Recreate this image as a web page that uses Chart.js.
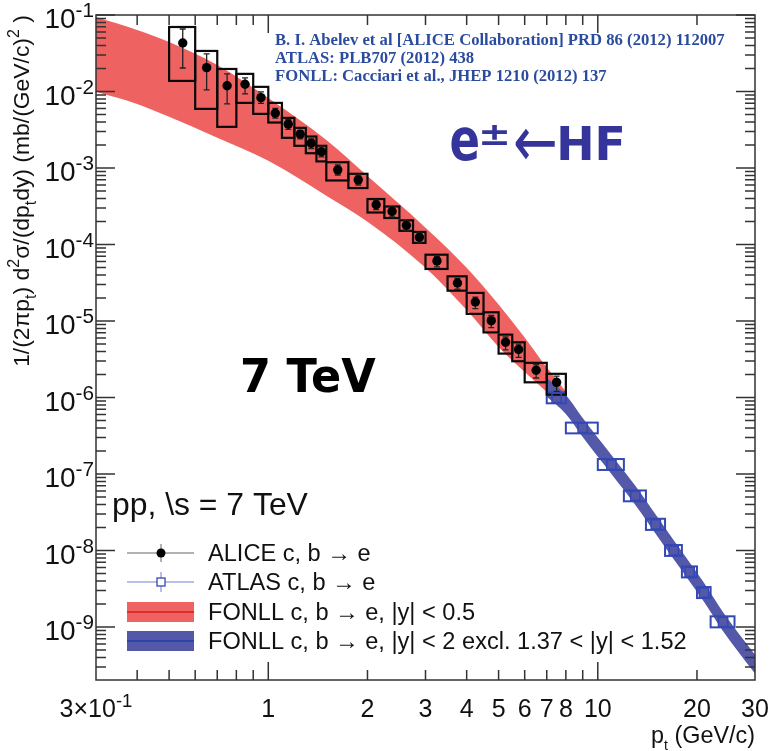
<!DOCTYPE html>
<html><head><meta charset="utf-8">
<script src="https://cdn.jsdelivr.net/npm/chart.js@4/dist/chart.umd.min.js"></script>
<style>html,body{margin:0;padding:0;background:#fff}canvas{display:block}</style>
</head><body>
<canvas id="c" width="769" height="751"></canvas>
<script>
// ---------------- DATA ----------------
// ALICE c,b -> e (pp 7 TeV)
const alicePt    = [0.55,0.65,0.75,0.85,0.95,1.05,1.15,1.25,1.35,1.45,1.625,1.875,2.125,2.375,2.625,2.875,3.25,3.75,4.25,4.75,5.25,5.75,6.5,7.5];
const aliceBinLo = [0.5,0.6,0.7,0.8,0.9,1.0,1.1,1.2,1.3,1.4,1.5,1.75,2.0,2.25,2.5,2.75,3.0,3.5,4.0,4.5,5.0,5.5,6.0,7.0];
const aliceBinHi = [0.6,0.7,0.8,0.9,1.0,1.1,1.2,1.3,1.4,1.5,1.75,2.0,2.25,2.5,2.75,3.0,3.5,4.0,4.5,5.0,5.5,6.0,7.0,8.0];
const aliceVal   = [0.043,0.0205,0.0119,0.01245,0.0083,0.0052,0.00374,0.00277,0.00211,0.00163,9.46e-4,7.0e-4,3.31e-4,2.7e-4,1.78e-4,1.24e-4,6.1e-5,3.14e-5,1.77e-5,1.01e-5,5.27e-6,4.24e-6,2.27e-6,1.58e-6];
const aliceStatLo= [0.0203,0.0105,0.0069,0.0093,0.0070,0.0045,0.0032,0.0024,0.0018,0.0014,8.1e-4,6.0e-4,2.85e-4,2.3e-4,1.52e-4,1.05e-4,5.1e-5,2.6e-5,1.45e-5,8.2e-6,4.2e-6,3.35e-6,1.8e-6,1.2e-6];
const aliceStatHi= [0.0656,0.031,0.017,0.0151,0.0099,0.006,0.0043,0.0031,0.0024,0.0019,1.1e-3,8.1e-4,3.8e-4,3.1e-4,2.05e-4,1.42e-4,7.0e-5,3.6e-5,2.05e-5,1.18e-5,6.2e-6,5.0e-6,2.7e-6,1.9e-6];
const aliceSysLo = [0.01375,0.00593,0.00345,0.0071,0.0051,0.00393,0.00248,0.00195,0.00156,0.00122,6.87e-4,5.47e-4,2.62e-4,2.22e-4,1.51e-4,1.05e-4,4.79e-5,2.49e-5,1.24e-5,7.1e-6,3.75e-6,2.98e-6,1.58e-6,1.09e-6];
const aliceSysHi = [0.0697,0.0339,0.0197,0.017,0.0115,0.0071,0.00452,0.00335,0.00258,0.00195,1.19e-3,8.4e-4,3.93e-4,3.14e-4,2.07e-4,1.46e-4,7.36e-5,3.84e-5,2.33e-5,1.30e-5,6.64e-6,5.27e-6,2.84e-6,2.04e-6];
// ATLAS c,b -> e
const atlasPt    = [7.5,9,11,13,15,17,19,21,24];
const atlasBinLo = [7,8,10,12,14,16,18,20,22];
const atlasBinHi = [8,10,12,14,16,18,20,22,26];
const atlasVal   = [9.9e-7,4.0e-7,1.33e-7,5.2e-8,2.2e-8,1.0e-8,5.25e-9,2.82e-9,1.17e-9];
const atlasSysLo = [8.4e-7,3.4e-7,1.13e-7,4.4e-8,1.86e-8,8.5e-9,4.45e-9,2.39e-9,9.9e-10];
const atlasSysHi = [1.17e-6,4.7e-7,1.57e-7,6.1e-8,2.6e-8,1.18e-8,6.2e-9,3.33e-9,1.38e-9];
// FONLL |y|<0.5 band
const redPt    = [0.3,0.4,0.5,0.7,1.0,1.5,2,3,4,5,6,7,8];
const redUpper = [0.0942,0.0637,0.0444,0.0222,0.00824,0.00232,7.85e-4,1.66e-4,4.97e-5,1.64e-5,6.07e-6,2.46e-6,1.20e-6];
const redLower = [0.00989,0.00689,0.00466,0.00248,0.00124,4.34e-4,1.99e-4,4.97e-5,1.39e-5,4.57e-6,2.15e-6,1.18e-6,6.87e-7];
// FONLL |y|<2 band
const bluePt    = [7,8,9,11,13,15,17,19,21,24,30];
const blueUpper = [1.80e-6,1.08e-6,5.4e-7,1.77e-7,7.0e-8,2.93e-8,1.36e-8,6.97e-9,3.79e-9,1.56e-9,4.35e-10];
const blueLower = [1.02e-6,6.1e-7,3.05e-7,1.0e-7,3.95e-8,1.65e-8,7.67e-9,3.94e-9,2.14e-9,8.8e-10,2.46e-10];
// ticks
const xTickValues = [0.3,1,2,3,4,5,6,7,8,10,20,30];
const xTickLabels = ['3×10^{-1}','1','2','3','4','5','6','7','8','10','20','30'];
const xMajorTicks = [1,10];
const xMinorTicks = [0.4,0.5,0.6,0.7,0.8,0.9,2,3,4,5,6,7,8,9,20];
const yTickValues = [1e-9,1e-8,1e-7,1e-6,1e-5,1e-4,1e-3,1e-2,1e-1];
const yTickLabels = ['10^{-9}','10^{-8}','10^{-7}','10^{-6}','10^{-5}','10^{-4}','10^{-3}','10^{-2}','10^{-1}'];
const legendLabels = ['ALICE c, b \u2192 e','ATLAS c, b \u2192 e','FONLL c, b \u2192 e, |y| < 0.5','FONLL c, b \u2192 e, |y| < 2 excl. 1.37 < |y| < 1.52'];
const refLines = ['B. I. Abelev et al [ALICE Collaboration] PRD 86 (2012) 112007','ATLAS: PLB707 (2012) 438','FONLL: Cacciari et al., JHEP 1210 (2012) 137'];

// ---------------- STYLE ----------------
const RED = '#ef6262', BLUE_BAND = '#5358a8', ATLAS_BLUE = '#3448b4', FRAME = '#333';
const SANS = '"Liberation Sans", Arial, sans-serif';

const pts = (xs, ys) => xs.map((x, i) => ({x, y: ys[i]}));

// ---------------- HELPERS ----------------
function parseRich(s){const out=[];const re=/([_^])\{([^}]*)\}/g;let last=0,m;
  while((m=re.exec(s))){if(m.index>last)out.push({t:s.slice(last,m.index),m:0});out.push({t:m[2],m:m[1]==='^'?1:-1});last=re.lastIndex;}
  if(last<s.length)out.push({t:s.slice(last),m:0});return out;}
function richWidth(ctx,s,size,fam,sc){let w=0;for(const p of parseRich(s)){ctx.font=(p.m?size*sc:size)+'px '+fam;w+=ctx.measureText(p.t).width;}return w;}
function drawRich(ctx,s,x,y,size,fam,align,sc=0.72,up=0.42,down=0.25){
  const w=richWidth(ctx,s,size,fam,sc);let cx=align==='right'?x-w:align==='center'?x-w/2:x;
  ctx.textAlign='left';ctx.textBaseline='alphabetic';
  for(const p of parseRich(s)){ctx.font=(p.m?size*sc:size)+'px '+fam;const dy=p.m===1?-size*up:p.m===-1?size*down:0;ctx.fillText(p.t,cx,y+dy);cx+=ctx.measureText(p.t).width;}}
function fitSize(ctx,text,fontTpl,target){ctx.font=fontTpl(100);return 100*target/ctx.measureText(text).width;}
function fitBox(ctx,text,font,l,r,t,b){ctx.font=font;const m=ctx.measureText(text);
  const w=m.actualBoundingBoxLeft+m.actualBoundingBoxRight,h=m.actualBoundingBoxAscent+m.actualBoundingBoxDescent;
  const sx=(r-l)/w,sy=(b-t)/h;ctx.save();ctx.translate(l+m.actualBoundingBoxLeft*sx,t+m.actualBoundingBoxAscent*sy);ctx.scale(sx,sy);
  ctx.textAlign='left';ctx.textBaseline='alphabetic';ctx.fillText(text,0,0);ctx.restore();}

// ---------------- PLUGINS ----------------
const bgPlugin={id:'bg',beforeDraw(c){const x=c.ctx;x.save();x.fillStyle='#fff';x.fillRect(0,0,c.width,c.height);x.restore();}};

const boxPlugin={id:'boxes',afterDatasetDraw(chart,args){
  if(args.index!==3)return;
  const ctx=chart.ctx,xs=chart.scales.x,ys=chart.scales.y,a=chart.chartArea;
  ctx.save();ctx.beginPath();ctx.rect(a.left,a.top,a.right-a.left,a.bottom-a.top);ctx.clip();
  // ATLAS systematic boxes
  ctx.strokeStyle=ATLAS_BLUE;ctx.lineWidth=2;
  atlasPt.forEach((p,i)=>{const x0=xs.getPixelForValue(atlasBinLo[i]),x1=xs.getPixelForValue(atlasBinHi[i]);
    const y0=ys.getPixelForValue(atlasSysHi[i]),y1=ys.getPixelForValue(atlasSysLo[i]);ctx.strokeRect(x0,y0,x1-x0,y1-y0);});
  // ALICE systematic boxes
  ctx.strokeStyle='#0a0a0a';ctx.lineWidth=2.2;
  alicePt.forEach((p,i)=>{const x0=xs.getPixelForValue(aliceBinLo[i]),x1=xs.getPixelForValue(aliceBinHi[i]);
    const y0=ys.getPixelForValue(aliceSysHi[i]),y1=ys.getPixelForValue(aliceSysLo[i]);ctx.strokeRect(x0,y0,x1-x0,y1-y0);});
  // ALICE stat error bars
  ctx.strokeStyle='#222';ctx.lineWidth=1.3;
  alicePt.forEach((p,i)=>{const x=xs.getPixelForValue(p),y0=ys.getPixelForValue(aliceStatHi[i]),y1=ys.getPixelForValue(aliceStatLo[i]);
    ctx.beginPath();ctx.moveTo(x,y0);ctx.lineTo(x,y1);ctx.moveTo(x-3,y0);ctx.lineTo(x+3,y0);ctx.moveTo(x-3,y1);ctx.lineTo(x+3,y1);ctx.stroke();});
  ctx.restore();}};

const framePlugin={id:'frame',afterDatasetsDraw(chart){
  const ctx=chart.ctx,xs=chart.scales.x,ys=chart.scales.y,a=chart.chartArea;
  ctx.save();ctx.strokeStyle=FRAME;ctx.lineWidth=1.5;
  ctx.strokeRect(a.left,a.top,a.right-a.left,a.bottom-a.top);
  ctx.beginPath();
  // y ticks
  for(let e=-10;e<=-1;e++){for(let k=1;k<=9;k++){const v=k*Math.pow(10,e);if(v<ys.min||v>ys.max)continue;
    const y=ys.getPixelForValue(v),L=k===1?19:10;ctx.moveTo(a.left,y);ctx.lineTo(a.left+L,y);ctx.moveTo(a.right,y);ctx.lineTo(a.right-L,y);}}
  // x ticks
  xMajorTicks.concat(xMinorTicks).forEach(v=>{const x=xs.getPixelForValue(v),L=xMajorTicks.includes(v)?18:10;
    ctx.moveTo(x,a.bottom);ctx.lineTo(x,a.bottom-L);ctx.moveTo(x,a.top);ctx.lineTo(x,a.top+L);});
  ctx.stroke();ctx.restore();}};

const textPlugin={id:'texts',afterDraw(chart){
  const ctx=chart.ctx,xs=chart.scales.x,ys=chart.scales.y,a=chart.chartArea;
  ctx.save();ctx.fillStyle='#111';
  // y tick labels
  yTickValues.forEach((v,i)=>{const y=ys.getPixelForValue(v);drawRich(ctx,yTickLabels[i],94,y+13,28,SANS,'right',0.74,0.38);});
  // x tick labels
  xTickValues.forEach((v,i)=>{const x=xs.getPixelForValue(v);drawRich(ctx,xTickLabels[i],x,717,25,SANS,'center',0.74,0.4);});
  // axis titles
  const yTitle='1/(2\u03c0p_{t}) d^{2}\u03c3/(dp_{t}dy) (mb/(GeV/c)^{2} )';
  let s=20*352/richWidth(ctx,yTitle,20,SANS,0.7);
  ctx.save();ctx.translate(29,191);ctx.rotate(-Math.PI/2);drawRich(ctx,yTitle,0,0,s,SANS,'center',0.7,0.42,0.3);ctx.restore();
  const xTitle='p_{t} (GeV/c)';
  s=20*104/richWidth(ctx,xTitle,20,SANS,0.6);
  drawRich(ctx,xTitle,755,743,s,SANS,'right',0.6,0.4,0.3);
  // reference lines
  ctx.fillStyle='#2b4c9e';
  s=fitSize(ctx,refLines[0],z=>'bold '+z+'px "Liberation Serif", serif',450);
  ctx.font='bold '+s+'px "Liberation Serif", serif';ctx.textAlign='left';ctx.textBaseline='alphabetic';
  [45,63,81].forEach((y,i)=>ctx.fillText(refLines[i],275,y));
  // e± <- HF
  ctx.fillStyle='#34349a';
  const BF='bold 60px "DejaVu Sans", sans-serif';
  fitBox(ctx,'e',BF,451,478,127,161);
  fitBox(ctx,'\u00b1',BF,482,507,125,145);
  fitBox(ctx,'\u2190','60px "DejaVu Sans", sans-serif',515,555,128,160);
  fitBox(ctx,'HF',BF,560,622,125,160);
  // 7 TeV
  ctx.fillStyle='#000';
  fitBox(ctx,'7 TeV',BF,243,376,358,393);
  // pp, \s = 7 TeV
  ctx.fillStyle='#111';
  s=fitSize(ctx,'pp, \\s = 7 TeV',z=>z+'px '+SANS,196);
  ctx.font=s+'px '+SANS;ctx.fillText('pp, \\s = 7 TeV',112,515);
  // legend
  const rows=[553,582,612,641];
  ctx.lineWidth=1;ctx.strokeStyle='#666';ctx.beginPath();ctx.moveTo(127,rows[0]);ctx.lineTo(194,rows[0]);ctx.moveTo(161,rows[0]-9);ctx.lineTo(161,rows[0]+9);ctx.stroke();
  ctx.fillStyle='#000';ctx.beginPath();ctx.arc(161,rows[0],4.5,0,Math.PI*2);ctx.fill();
  ctx.strokeStyle='#7080c8';ctx.beginPath();ctx.moveTo(127,rows[1]);ctx.lineTo(157,rows[1]);ctx.moveTo(165,rows[1]);ctx.lineTo(194,rows[1]);ctx.moveTo(161,rows[1]-10);ctx.lineTo(161,rows[1]-4);ctx.moveTo(161,rows[1]+4);ctx.lineTo(161,rows[1]+10);ctx.stroke();
  ctx.strokeStyle=ATLAS_BLUE;ctx.lineWidth=1.3;ctx.strokeRect(157,rows[1]-4,8,8);
  ctx.fillStyle=RED;ctx.fillRect(127,rows[2]-10,67,20);ctx.strokeStyle='#e02c2c';ctx.lineWidth=2;ctx.beginPath();ctx.moveTo(127,rows[2]);ctx.lineTo(194,rows[2]);ctx.stroke();
  ctx.fillStyle=BLUE_BAND;ctx.fillRect(127,rows[3]-10,67,20);ctx.strokeStyle='#2c44a8';ctx.beginPath();ctx.moveTo(127,rows[3]);ctx.lineTo(194,rows[3]);ctx.stroke();
  ctx.fillStyle='#111';
  s=fitSize(ctx,legendLabels[3],z=>z+'px '+SANS,479);
  ctx.font=s+'px '+SANS;ctx.textAlign='left';ctx.textBaseline='alphabetic';
  legendLabels.forEach((t,i)=>ctx.fillText(t,208,rows[i]+8));
  ctx.restore();}};

// ---------------- CHART ----------------
new Chart(document.getElementById('c'),{
  type:'line',
  data:{datasets:[
    {label:'FONLL |y|<0.5 upper',data:pts(redPt,redUpper),borderWidth:0,pointRadius:0,fill:'+1',backgroundColor:RED,borderColor:RED,cubicInterpolationMode:'monotone',order:10},
    {label:'FONLL |y|<0.5 lower',data:pts(redPt,redLower),borderWidth:0,pointRadius:0,fill:false,borderColor:RED,cubicInterpolationMode:'monotone',order:9},
    {label:'FONLL |y|<2 upper',data:pts(bluePt,blueUpper),borderWidth:0,pointRadius:0,fill:'+1',backgroundColor:BLUE_BAND,borderColor:BLUE_BAND,cubicInterpolationMode:'monotone',order:8},
    {label:'FONLL |y|<2 lower',data:pts(bluePt,blueLower),borderWidth:0,pointRadius:0,fill:false,borderColor:BLUE_BAND,cubicInterpolationMode:'monotone',order:7},
    {label:'ALICE',data:pts(alicePt,aliceVal),showLine:false,pointRadius:4.7,pointStyle:'circle',pointBackgroundColor:'#000',pointBorderColor:'#000',pointBorderWidth:0,order:1},
    {label:'ATLAS',data:pts(atlasPt,atlasVal),showLine:false,pointRadius:6.5,pointStyle:'rect',pointBackgroundColor:'rgba(0,0,0,0)',pointBorderColor:ATLAS_BLUE,pointBorderWidth:1.5,order:2}
  ]},
  options:{responsive:false,devicePixelRatio:1,animation:false,
    layout:{padding:{top:15,right:14,left:0,bottom:0}},
    plugins:{legend:{display:false},tooltip:{enabled:false}},
    scales:{
      x:{type:'logarithmic',min:0.3,max:30,ticks:{display:false},grid:{display:false},border:{display:false},afterFit(s){s.height=71;}},
      y:{type:'logarithmic',min:2.03e-10,max:0.1,ticks:{display:false},grid:{display:false},border:{display:false},afterFit(s){s.width=96;}}
    }},
  plugins:[bgPlugin,boxPlugin,framePlugin,textPlugin]
});
</script>
</body></html>
